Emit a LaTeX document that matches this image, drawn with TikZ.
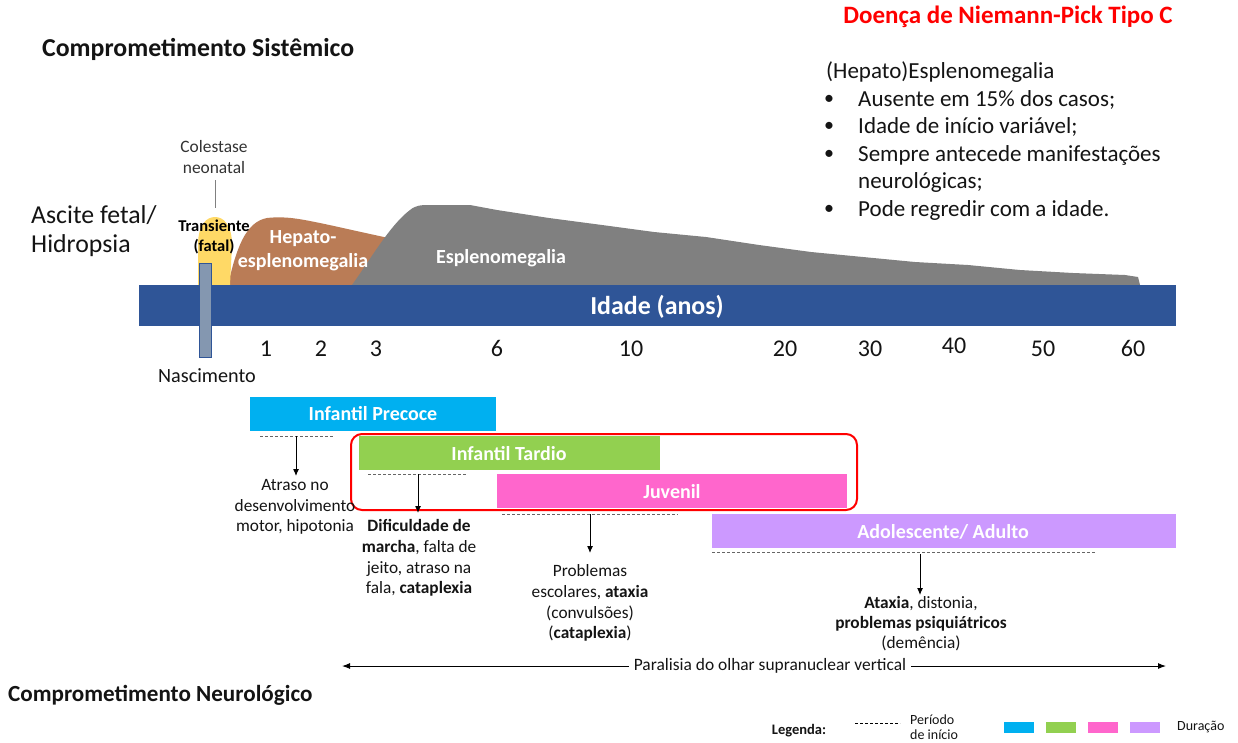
\documentclass[tikz,border=0pt]{standalone}
\usepackage{fontspec}
\setmainfont{Carlito}
\usetikzlibrary{arrows.meta}
\definecolor{barblue}{RGB}{47,85,151}
\definecolor{markfill}{RGB}{132,151,176}
\definecolor{yel}{RGB}{255,217,102}
\definecolor{brn}{RGB}{186,124,86}
\definecolor{gry}{RGB}{128,128,128}
\definecolor{cyanb}{RGB}{0,176,240}
\definecolor{greenb}{RGB}{146,208,80}
\definecolor{pinkb}{RGB}{255,102,204}
\definecolor{purpb}{RGB}{204,153,255}
\definecolor{redt}{RGB}{255,0,0}
\definecolor{txt}{RGB}{20,20,20}
\tikzset{
  lbl/.style={inner sep=0pt, text=txt},
  body/.style={inner sep=0pt, text=txt, anchor=west, font=\fontsize{23}{27}\selectfont},
  agebox/.style={inner sep=0pt, text=white, font=\bfseries\fontsize{20}{22}\selectfont},
  onset/.style={densely dashed, gray!80!black, line width=0.8pt},
  arr/.style={-{Latex[length=7pt,width=6pt]}, line width=1pt, black},
  age/.style={inner sep=0pt, anchor=base, font=\fontsize{24}{26}\selectfont, text=txt},
  sym/.style={inner sep=0pt, align=center, text=txt, font=\fontsize{17.3}{20.8}\selectfont},
}
\begin{document}
\begin{tikzpicture}[x=1pt,y=-1pt]
\useasboundingbox (0,0) rectangle (1238,742);
\fill[white] (0,0) rectangle (1238,742);

% titles
\node[lbl, text=redt, font=\bfseries\fontsize{25}{28}\selectfont] (title) at (1008,17) {Doença de Niemann-Pick Tipo C};
\node[lbl, anchor=west, font=\bfseries\fontsize{25.8}{28}\selectfont] (sist) at (42,49) {Comprometimento Sistêmico};
\node[lbl, anchor=west, font=\bfseries\fontsize{23.1}{26}\selectfont] (neuro) at (8,695) {Comprometimento Neurológico};

% bullet list
\node[body] (hep) at (826,72) {(Hepato)Esplenomegalia};
\foreach \yy/\t [count=\i] in {100/{Ausente em 15\% dos casos;},127/{Idade de início variável;},155/{Sempre antecede manifestações},210/{Pode regredir com a idade.}}{
  \node[body] (b\i) at (858,\yy) {\t};
  \node[lbl, font=\fontsize{20}{24}\selectfont] (d\i) at (829,\yy) {•};
}
\node[body] (b3b) at (858,182) {neurológicas;};

% ascite
\node[lbl, anchor=west, align=left, font=\fontsize{25.8}{29}\selectfont] (asc) at (31,231) {Ascite fetal/\\Hidropsia};

% colestase
\node[lbl, align=center, text=black!80, font=\fontsize{17.4}{21}\selectfont] (col) at (214,157) {Colestase\\neonatal};
\coordinate (colend) at (215,208);
\draw[gray, line width=0.8pt] (215,180) -- (colend);

% brown hepato-esplenomegalia
\fill[brn] (228,285) .. controls (236,250) and (245,222) .. (267,218)
  .. controls (285,216) and (300,219) .. (315,222)
  .. controls (335,226) and (360,232) .. (398,240) -- (398,285) -- cycle;
% gray esplenomegalia
\fill[gry] (352,285) .. controls (370,260) and (390,225) .. (410,210)
  .. controls (416,205) and (422,205) .. (428,205) -- (470,205)
  -- (497,210) -- (549,218) -- (602,225) -- (654,232) -- (706,237) -- (759,245)
  -- (811,252) -- (863,257) -- (915,262) -- (968,265) -- (1020,270) -- (1073,273)
  -- (1125,275) -- (1138,277) -- (1140,285) -- cycle;
% yellow transient
\fill[yel] (198,285) -- (198,245) .. controls (198,224) and (207,217) .. (215,217)
  .. controls (223,217) and (232,224) .. (232,245) -- (230,285) -- cycle;

\node[lbl, align=center, text=black, font=\bfseries\fontsize{16.5}{20}\selectfont] (trans) at (214,237) {Transiente\\(fatal)};
\node[lbl, align=center, text=white, font=\bfseries\fontsize{20}{24}\selectfont] (hepl) at (303,251) {Hepato-\\esplenomegalia};
\node[lbl, text=white, font=\bfseries\fontsize{20}{22}\selectfont] (espl) at (501,258) {Esplenomegalia};

% age bar
\fill[barblue] (139,285) rectangle (1176,326);
\node[lbl, text=white, font=\bfseries\fontsize{25.9}{28}\selectfont] (idade) at (657,307) {Idade (anos)};
\draw[fill=markfill, draw=barblue, line width=1pt] (199.5,263) rectangle (211.5,357);
\node[lbl, font=\fontsize{20.2}{22}\selectfont] (nasc) at (207,376) {Nascimento};

\foreach \xx/\a in {266/1,321/2,376/3,497/6,631/10,785/20,870/30,1043/50,1133/60}{
  \node[age] at (\xx,356) {\a};
}
\node[age] at (954,353) {40};

% red highlight
\draw[redt, line width=2pt, rounded corners=11pt] (351,434) rectangle (857,510);

% age group boxes
\fill[cyanb] (250,397) rectangle (496,431);
\node[agebox] (ip) at (373,414) {Infantil Precoce};
\fill[greenb] (359,436) rectangle (660,470);
\node[agebox] (it) at (509,454) {Infantil Tardio};
\fill[pinkb] (497,474) rectangle (847,508);
\node[agebox] (juv) at (672,492) {Juvenil};
\fill[purpb] (712,514) rectangle (1176,548);
\node[agebox] (adu) at (943,532) {Adolescente/ Adulto};

% onset lines and arrows
\draw[onset] (260,436) -- (333,436);
\draw[onset] (368,474) -- (466,474);
\draw[onset] (502,514) -- (678,514);
\draw[onset] (712,552) -- (1096,552);

\node[sym] (s1) at (295,507) {Atraso no\\desenvolvimento\\motor, hipotonia};
\node[sym] (s2) at (419,558) {\textbf{Dificuldade de}\\\textbf{marcha}, falta de\\jeito, atraso na\\fala, \textbf{cataplexia}};
\node[sym] (s3) at (590,603) {Problemas\\escolares, \textbf{ataxia}\\(convulsões)\\(\textbf{cataplexia})};
\node[sym, font=\fontsize{17.3}{20}\selectfont] (s4) at (921,624) {\textbf{Ataxia}, distonia,\\\textbf{problemas psiquiátricos}\\(demência)};

\coordinate (o1) at (296,436);
\coordinate (o2) at (418,474);
\coordinate (o3) at (590,514);
\coordinate (o4) at (920,554);
\draw[arr] (o1) -- (296,476);
\draw[arr] (o2) -- (418,513);
\draw[arr] (o3) -- (590,553);
\draw[arr] (o4) -- (920,595);

% gaze palsy
\coordinate (gl) at (342,666);
\coordinate (gr) at (1166,666);
\draw[{Latex[length=8pt,width=6pt]}-{Latex[length=8pt,width=6pt]}, line width=1pt] (gl) -- (gr);
\node[lbl, fill=white, inner xsep=5pt, inner ysep=1pt, font=\fontsize{17.4}{20}\selectfont] (gaze) at (770,666) {Paralisia do olhar supranuclear vertical};

% legend
\node[lbl, font=\bfseries\fontsize{14.5}{16}\selectfont] (leg) at (799,731) {Legenda:};
\draw[densely dashed, black, line width=0.8pt] (855,723) -- (900,723);
\node[lbl, anchor=west, align=left, font=\fontsize{14}{15.5}\selectfont] (per) at (910,727) {Período\\de início};
\fill[cyanb] (1004,722) rectangle (1034,733);
\fill[greenb] (1046,722) rectangle (1076,733);
\fill[pinkb] (1088,722) rectangle (1118,733);
\fill[purpb] (1130,722) rectangle (1160,733);
\node[lbl, anchor=west, font=\fontsize{14}{16}\selectfont] (dur) at (1177,727) {Duração};
\end{tikzpicture}
\end{document}
